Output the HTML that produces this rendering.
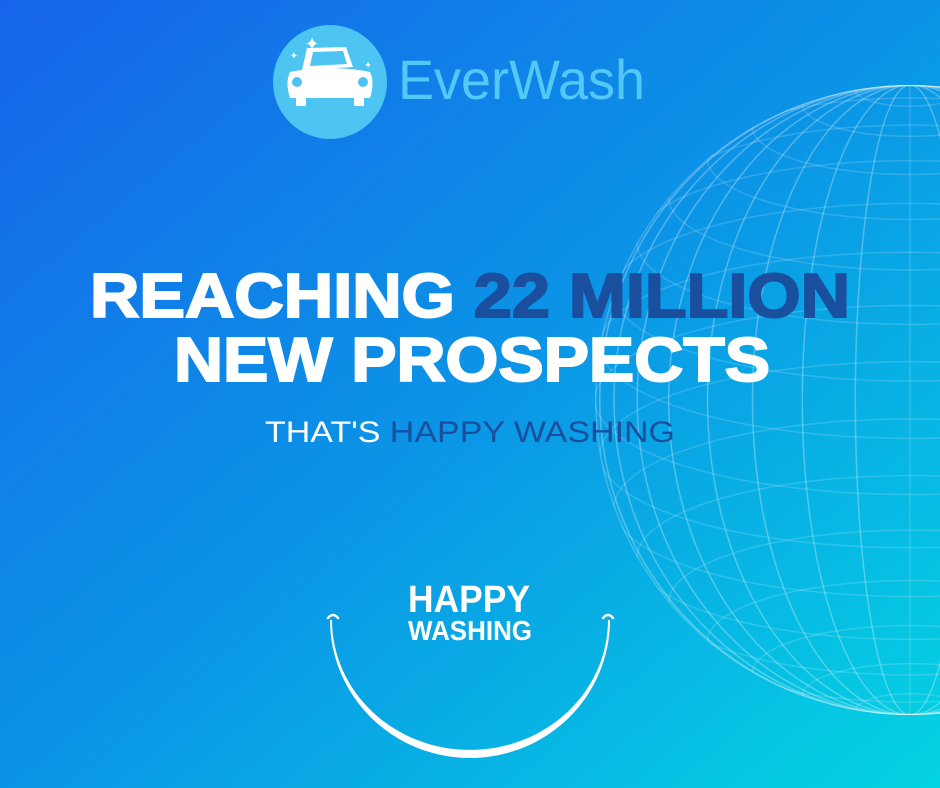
<!DOCTYPE html>
<html><head><meta charset="utf-8"><style>
html,body{margin:0;padding:0;width:940px;height:788px;overflow:hidden}
svg{display:block}
</style></head><body>
<svg width="940" height="788" viewBox="0 0 940 788" xmlns="http://www.w3.org/2000/svg" font-family="'Liberation Sans', sans-serif">
<defs>
<linearGradient id="bg" x1="0" y1="0" x2="1" y2="1">
<stop offset="0" stop-color="#1764ea"/>
<stop offset="0.5" stop-color="#0b94e6"/>
<stop offset="1" stop-color="#04d4e2"/>
</linearGradient>
<clipPath id="gc"><circle cx="910" cy="400" r="315"/></clipPath>
</defs>
<rect width="940" height="788" fill="url(#bg)"/>
<g clip-path="url(#gc)" fill="none" stroke="#ffffff" stroke-opacity="0.16" stroke-width="1.5" id="globe"></g>
<g>
<circle cx="330" cy="82" r="57" fill="#4ec4f3"/>
<path fill="#fff" d="M302 70 L307 48 L346 47 L353 67 L300 70 Z M290 72 Q330 64 370 72 Q375 82 370 98 L290 98 Q285 82 290 72 Z M296 98 h10 v8 h-10 z M354 98 h10 v8 h-10 z"/>
<path fill="#4ec4f3" d="M310 66 L313 52 L343 51 L347 64 Z"/>
<circle cx="297" cy="82" r="5" fill="#4ec4f3"/><circle cx="363" cy="82" r="5" fill="#4ec4f3"/>
<text x="312" y="50" fill="#fff" font-size="18" text-anchor="middle">✦</text>
<text x="294" y="59" fill="#fff" font-size="10" text-anchor="middle">✦</text>
<text x="368" y="68" fill="#fff" font-size="9" text-anchor="middle">✦</text>
<text x="398" y="99" font-size="56" fill="#52c8f6" font-weight="300" textLength="247" lengthAdjust="spacingAndGlyphs">EverWash</text>
</g>
<text x="90" y="317" font-size="62" font-weight="bold" fill="#fff" stroke="#fff" stroke-width="2" textLength="760" lengthAdjust="spacingAndGlyphs">REACHING <tspan fill="#1a4f9e" stroke="#1a4f9e">22 MILLION</tspan></text>
<text x="174" y="381" font-size="62" font-weight="bold" fill="#fff" stroke="#fff" stroke-width="2" textLength="596" lengthAdjust="spacingAndGlyphs">NEW PROSPECTS</text>
<text x="265" y="442" font-size="30" fill="#fff" textLength="410" lengthAdjust="spacingAndGlyphs">THAT'S <tspan fill="#1a4f9e">HAPPY WASHING</tspan></text>
<g>
<text x="408" y="612" font-size="38" font-weight="bold" fill="#fff" textLength="122" lengthAdjust="spacingAndGlyphs">HAPPY</text>
<text x="408" y="640" font-size="28" font-weight="bold" fill="#fff" textLength="124" lengthAdjust="spacingAndGlyphs">WASHING</text>
<path fill="#fff" d="M332 620 A138 130 0 0 0 608 620 L610 620 A140 138 0 0 1 330 620 Z"/>
<path fill="none" stroke="#fff" stroke-width="2.5" stroke-linecap="round" d="M328 618 Q333 612 338 618 M603 618 Q608 612 613 618"/>
</g>
<script>
var g=document.getElementById('globe');
var cx=910,cy=400,R=315,ns='http://www.w3.org/2000/svg';
for(var i=-8;i<=8;i++){
 var y=cy+R*Math.sin(i*Math.PI/18);var rx=R*Math.cos(i*Math.PI/18);
 var e=document.createElementNS(ns,'ellipse');
 
 
 e.setAttribute('cx',cx);e.setAttribute('cy',y);e.setAttribute('rx',rx);e.setAttribute('ry',rx*0.3);g.appendChild(e);
}
for(var j=0;j<18;j++){
 var e2=document.createElementNS(ns,'ellipse');
 
 
 e2.setAttribute('cx',cx);e2.setAttribute('cy',cy);e2.setAttribute('rx',Math.abs(R*Math.cos(j*Math.PI/18)));e2.setAttribute('ry',R);g.appendChild(e2);
}
var c=document.createElementNS(ns,'circle');


c.setAttribute('cx',cx);c.setAttribute('cy',cy);c.setAttribute('r',R-1);g.appendChild(c);
</script>
</svg>
</body></html>
